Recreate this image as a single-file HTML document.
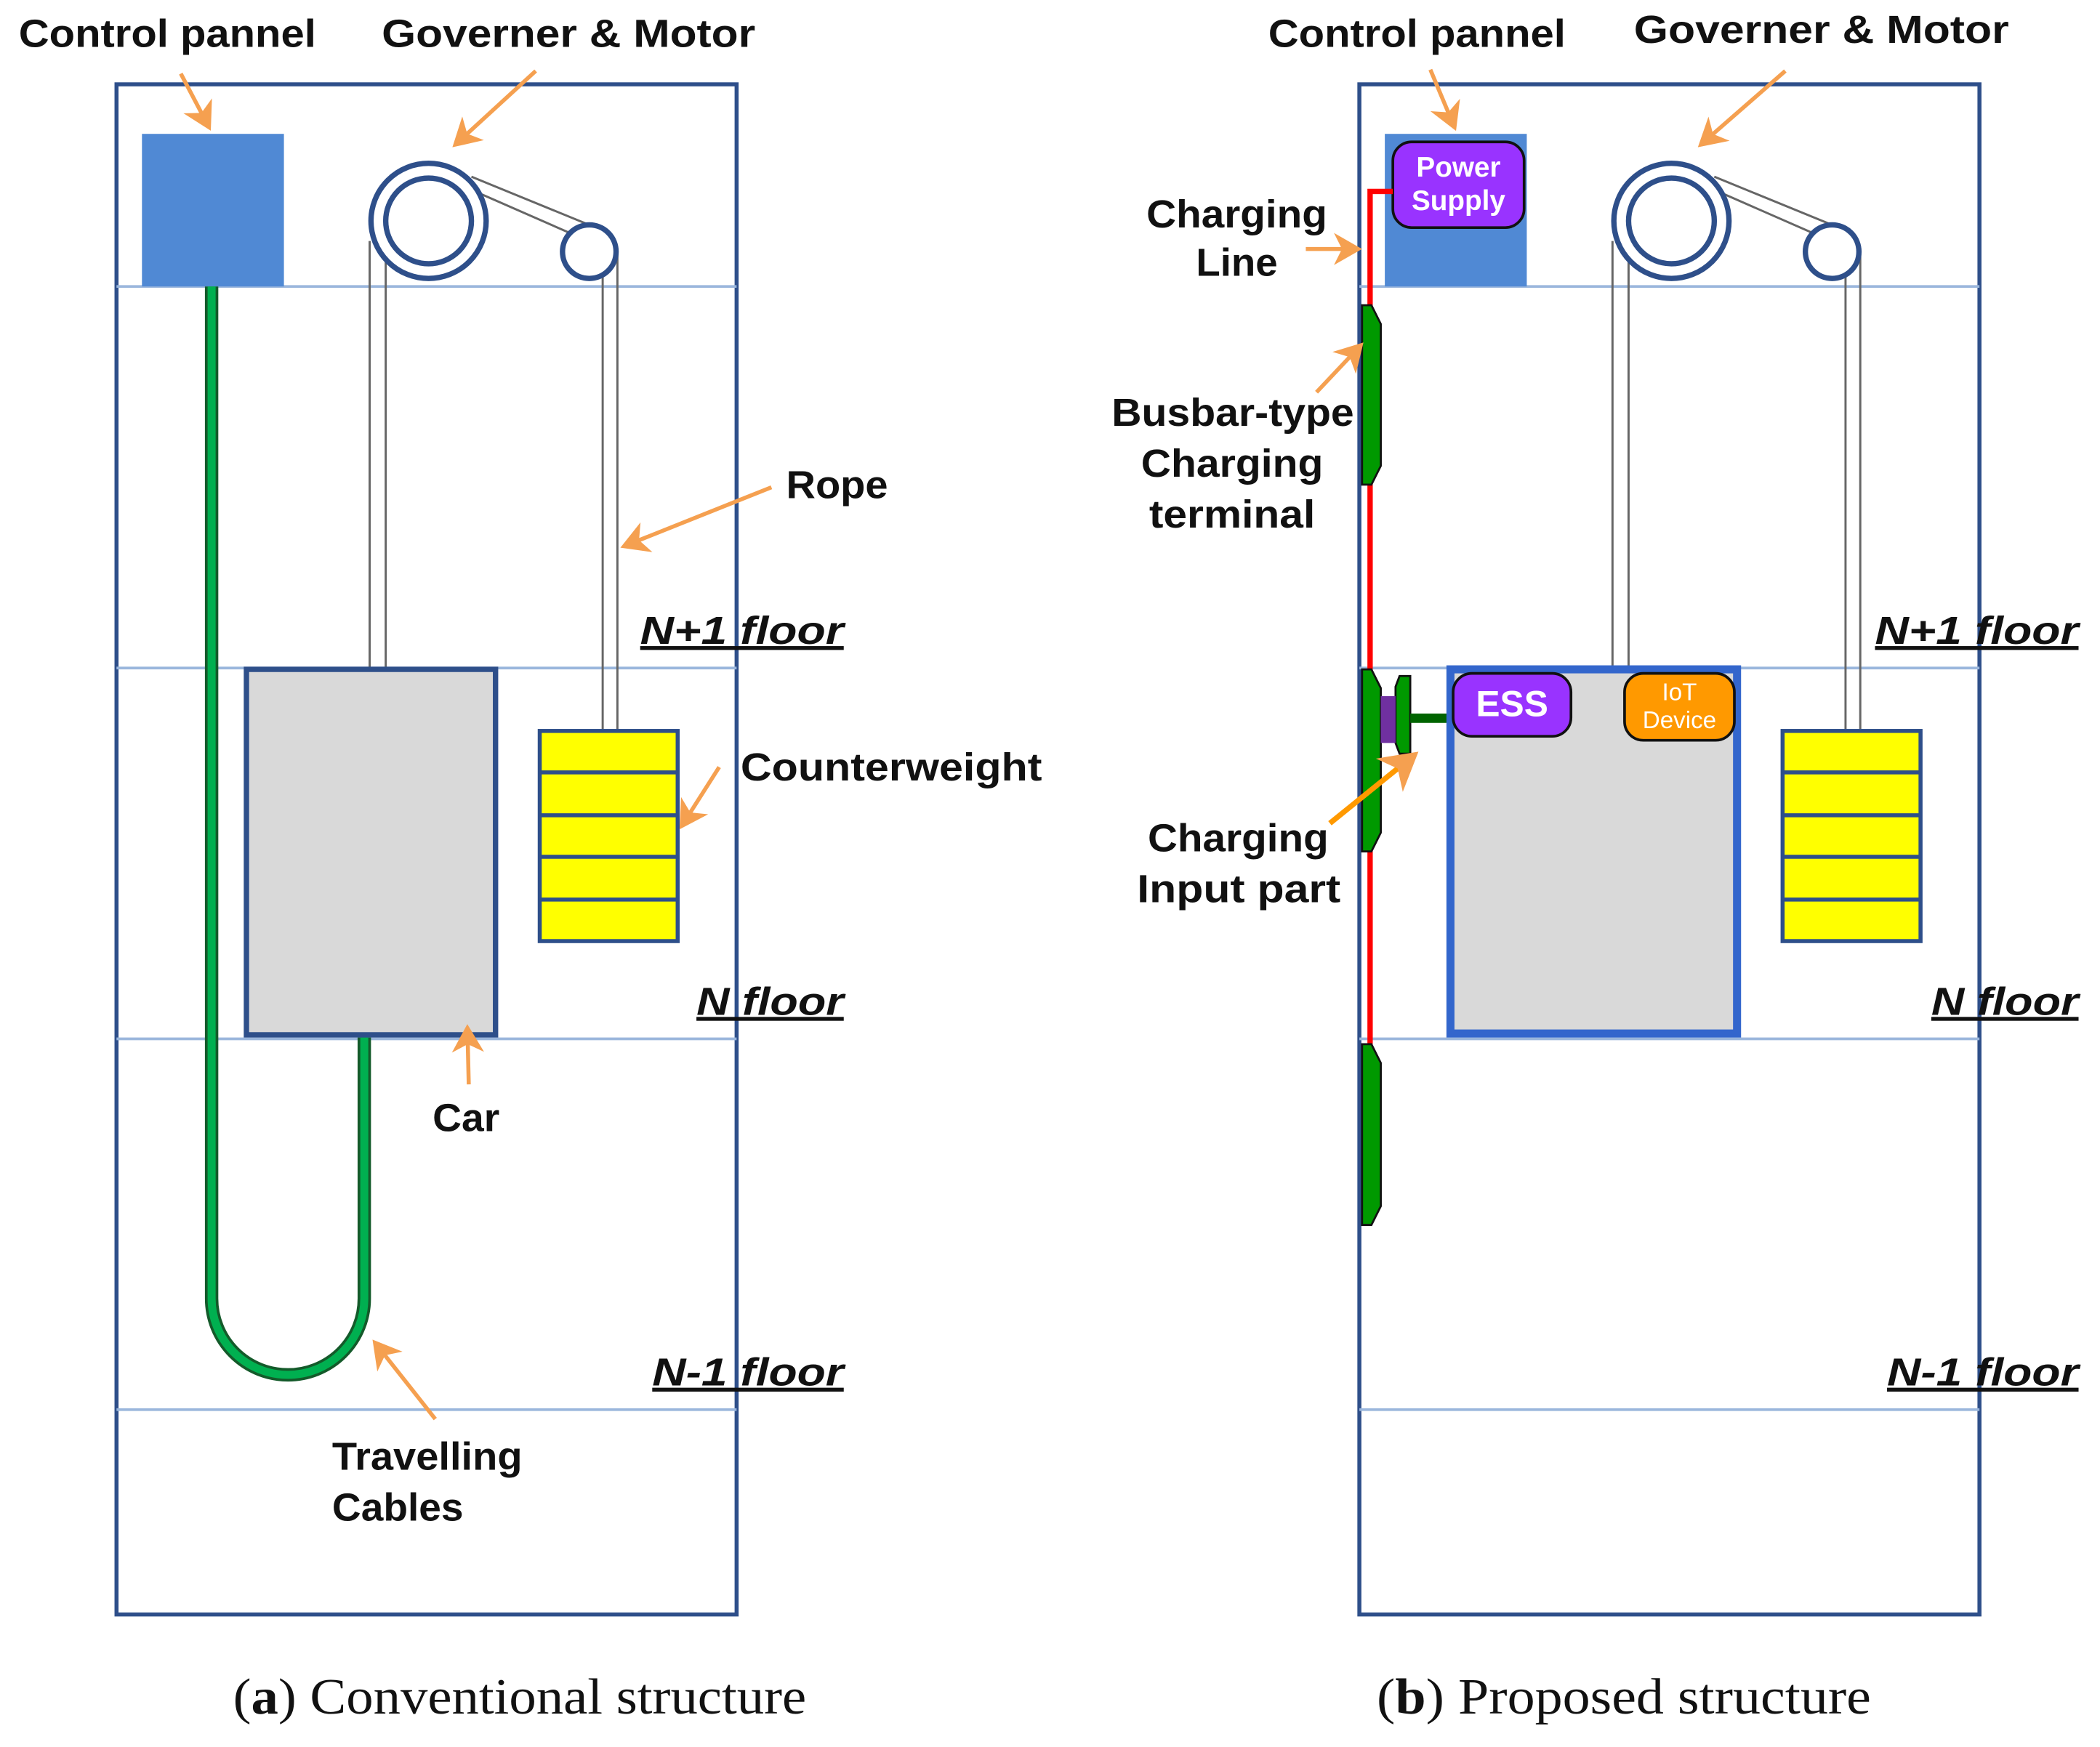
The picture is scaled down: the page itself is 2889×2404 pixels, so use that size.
<!DOCTYPE html>
<html><head><meta charset="utf-8"><style>
html,body{margin:0;padding:0;background:#fff;}
svg{display:block;}
.l{font-family:"Liberation Sans",sans-serif;font-weight:bold;font-size:29px;fill:#111;}
.f{font-family:"Liberation Sans",sans-serif;font-weight:bold;font-style:italic;font-size:29px;fill:#111;text-decoration:underline;}
.c{font-family:"Liberation Serif",serif;font-size:38px;fill:#111;}
.w{font-family:"Liberation Sans",sans-serif;fill:#fff;}
</style></head><body>
<svg width="2889" height="2404" viewBox="0 0 1568 1305" preserveAspectRatio="none" xmlns="http://www.w3.org/2000/svg">
<defs>
<marker id="a" markerWidth="8" markerHeight="8" refX="6" refY="4" orient="auto" markerUnits="strokeWidth"><path d="M0,0 L7,4 L0,8 L2,4 z" fill="#f5a050"/></marker>
<g id="shaft">
  <rect x="87" y="63" width="463" height="1143" fill="none" stroke="#2e4f8a" stroke-width="3"/>
  <g stroke="#9ab6dc" stroke-width="2">
    <line x1="87" y1="214" x2="550" y2="214"/><line x1="87" y1="499" x2="550" y2="499"/>
    <line x1="87" y1="776" x2="550" y2="776"/><line x1="87" y1="1053" x2="550" y2="1053"/>
  </g>
  <g stroke="#666" stroke-width="1.6" fill="none">
    <line x1="276" y1="180" x2="276" y2="499"/><line x1="288" y1="185" x2="288" y2="499"/>
    <line x1="450" y1="195" x2="450" y2="545"/><line x1="461" y1="190" x2="461" y2="545"/>
    <line x1="352" y1="132" x2="440" y2="168"/><line x1="357" y1="144" x2="430" y2="176"/>
  </g>
  <circle cx="320" cy="165" r="43" fill="#fff" stroke="#2e4f8a" stroke-width="4"/>
  <circle cx="320" cy="165" r="32" fill="#fff" stroke="#2e4f8a" stroke-width="4"/>
  <circle cx="440" cy="188" r="20" fill="#fff" stroke="#2e4f8a" stroke-width="4"/>
  <rect x="403" y="546" width="103" height="157" fill="#ffff00" stroke="#2e4f8a" stroke-width="3"/>
  <g stroke="#2e4f8a" stroke-width="3"><line x1="403" y1="577" x2="506" y2="577"/><line x1="403" y1="609" x2="506" y2="609"/><line x1="403" y1="640" x2="506" y2="640"/><line x1="403" y1="672" x2="506" y2="672"/></g>
</g>
</defs>

<use href="#shaft"/>
<rect x="106" y="100" width="106" height="114" fill="#5089d4"/>
<path d="M158,214 V970 A57,57 0 0 0 272,970 V775" fill="none" stroke="#145a2a" stroke-width="10"/>
<path d="M158,214 V970 A57,57 0 0 0 272,970 V775" fill="none" stroke="#00b050" stroke-width="6"/>
<rect x="184" y="500" width="186" height="273" fill="#d9d9d9" stroke="#2e4f8a" stroke-width="4"/>
<g stroke="#f5a050" stroke-width="3" fill="none" marker-end="url(#a)">
  <line x1="135" y1="55" x2="156" y2="95"/>
  <line x1="400" y1="53" x2="340" y2="108"/>
  <line x1="576" y1="364" x2="466" y2="408"/>
  <line x1="537" y1="573" x2="509" y2="617"/>
  <line x1="350" y1="810" x2="349" y2="768"/>
  <line x1="325" y1="1060" x2="280" y2="1003"/>
</g>
<text class="l" x="14" y="35" textLength="222" lengthAdjust="spacingAndGlyphs">Control pannel</text>
<text class="l" x="285" y="35" textLength="279" lengthAdjust="spacingAndGlyphs">Governer &amp; Motor</text>
<text class="l" x="587" y="372" textLength="76" lengthAdjust="spacingAndGlyphs">Rope</text>
<text class="l" x="553" y="583" textLength="225" lengthAdjust="spacingAndGlyphs">Counterweight</text>
<text class="l" x="323" y="845" textLength="50" lengthAdjust="spacingAndGlyphs">Car</text>
<text class="l" x="248" y="1098" textLength="142" lengthAdjust="spacingAndGlyphs">Travelling</text>
<text class="l" x="248" y="1136" textLength="98" lengthAdjust="spacingAndGlyphs">Cables</text>
<text class="f" x="478" y="481" textLength="152" lengthAdjust="spacingAndGlyphs">N+1 floor</text>
<text class="f" x="520" y="758" textLength="110" lengthAdjust="spacingAndGlyphs">N floor</text>
<text class="f" x="487" y="1035" textLength="143" lengthAdjust="spacingAndGlyphs">N-1 floor</text>
<text class="c" x="174" y="1280" textLength="428" lengthAdjust="spacingAndGlyphs">(<tspan font-weight="bold">a</tspan>) Conventional structure</text>

<use href="#shaft" x="928"/>
<rect x="1034" y="100" width="106" height="114" fill="#5089d4"/>
<rect x="1040" y="106" width="98" height="64" rx="14" fill="#9933ff" stroke="#111" stroke-width="2"/>
<text class="w" x="1089" y="132" text-anchor="middle" font-size="21" font-weight="bold">Power</text>
<text class="w" x="1089" y="157" text-anchor="middle" font-size="21" font-weight="bold">Supply</text>
<polyline points="1040,143 1023,143 1023,780" fill="none" stroke="#ff0000" stroke-width="4"/>
<g fill="#009900" stroke="#111" stroke-width="1.5">
  <path d="M1017,228 H1024 L1031,242 V348 L1024,362 H1017 Z"/>
  <path d="M1017,500 H1024 L1031,514 V622 L1024,636 H1017 Z"/>
  <path d="M1017,780 H1024 L1031,794 V901 L1024,915 H1017 Z"/>
  <path d="M1045,505 H1053 V563 H1045 L1042,555 V513 Z"/>
</g>
<rect x="1031" y="520" width="11" height="35" fill="#7030a0"/>
<rect x="1053" y="533" width="32" height="7" fill="#006400"/>
<rect x="1083" y="500" width="214" height="272" fill="#d9d9d9" stroke="#3366cc" stroke-width="6"/>
<rect x="1085" y="503" width="88" height="47" rx="14" fill="#9933ff" stroke="#111" stroke-width="2"/>
<text class="w" x="1129" y="535" text-anchor="middle" font-size="27" font-weight="bold">ESS</text>
<rect x="1213" y="503" width="82" height="50" rx="14" fill="#ff9900" stroke="#111" stroke-width="2"/>
<text class="w" x="1254" y="523" text-anchor="middle" font-size="18">IoT</text>
<text class="w" x="1254" y="544" text-anchor="middle" font-size="18">Device</text>
<g stroke="#f5a050" stroke-width="3" fill="none" marker-end="url(#a)">
  <line x1="1068" y1="52" x2="1086" y2="95"/>
  <line x1="1333" y1="53" x2="1270" y2="108"/>
  <line x1="975" y1="186" x2="1014" y2="186"/>
  <line x1="983" y1="293" x2="1016" y2="258"/>
</g>
<line x1="993" y1="615" x2="1056" y2="564" stroke="#ff9900" stroke-width="4" marker-end="url(#a)"/>
<text class="l" x="947" y="35" textLength="222" lengthAdjust="spacingAndGlyphs">Control pannel</text>
<text class="l" x="1220" y="32" textLength="280" lengthAdjust="spacingAndGlyphs">Governer &amp; Motor</text>
<text class="l" x="856" y="170" textLength="135" lengthAdjust="spacingAndGlyphs">Charging</text>
<text class="l" x="893" y="206" textLength="61" lengthAdjust="spacingAndGlyphs">Line</text>
<text class="l" x="830" y="318" textLength="181" lengthAdjust="spacingAndGlyphs">Busbar-type</text>
<text class="l" x="852" y="356" textLength="136" lengthAdjust="spacingAndGlyphs">Charging</text>
<text class="l" x="858" y="394" textLength="124" lengthAdjust="spacingAndGlyphs">terminal</text>
<text class="l" x="857" y="636" textLength="135" lengthAdjust="spacingAndGlyphs">Charging</text>
<text class="l" x="849" y="674" textLength="152" lengthAdjust="spacingAndGlyphs">Input part</text>
<text class="f" x="1400" y="481" textLength="152" lengthAdjust="spacingAndGlyphs">N+1 floor</text>
<text class="f" x="1442" y="758" textLength="110" lengthAdjust="spacingAndGlyphs">N floor</text>
<text class="f" x="1409" y="1035" textLength="143" lengthAdjust="spacingAndGlyphs">N-1 floor</text>
<text class="c" x="1028" y="1280" textLength="369" lengthAdjust="spacingAndGlyphs">(<tspan font-weight="bold">b</tspan>) Proposed structure</text>
</svg>
</body></html>
